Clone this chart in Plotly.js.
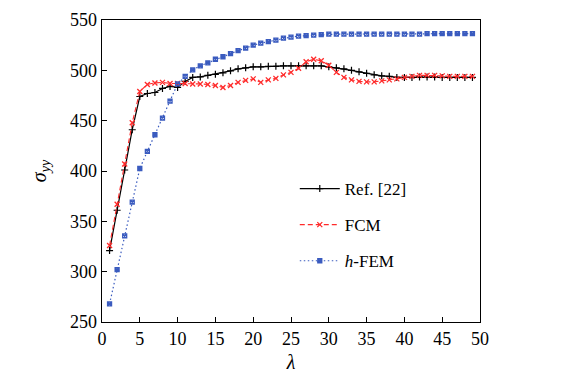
<!DOCTYPE html>
<html>
<head>
<meta charset="utf-8">
<script src="https://cdn.plot.ly/plotly-3.0.1.min.js"></script>
<style>html,body{margin:0;padding:0;background:#fff;}#chart{width:561px;height:384px;}</style>
</head>
<body>
<div id="chart"></div>
<script>
const lambda = [1,2,3,4,5,6,7,8,9,10,11,12,13,14,15,16,17,18,19,20,21,22,23,24,25,26,27,28,29,30,31,32,33,34,35,36,37,38,39,40,41,42,43,44,45,46,47,48,49];
const refValues = [321,361,401,441,474,477,478,482,484,483,489,493,493.5,495,496,497.5,499.5,501.5,502.5,503.5,503.5,504,504,504.5,504.5,504.5,504.5,504.5,504.5,503.5,502.5,501.5,500,498.5,497,495.5,494.5,494,493,493,493,493.5,493.5,493.5,493,493,493,493,493];
const fcmValues = [326,367,407,448,479,486,487.5,488,487,487,487,486.5,486.5,486,485,483,485,488,490,491.5,488,490.5,492,495.5,498,502,508.5,511,509.5,505,498,493,490.5,489,488.5,488.5,489.5,490.5,491.5,493,494,495,495,495,494.5,494,494,494,494];
const hfemValues = [268,302,335.5,369,402.5,419.5,436,452.5,469.5,486.5,494,500.5,504.5,507.5,511,513.5,516.5,519.5,522,525,527,528.5,530,532,533,534,534.5,535,535.5,536,536,536,536,536,536,536,536,536,536,536,536,536,536.5,536.5,536.5,536.5,536.5,536.5,536.5];
const xTicks = [0,5,10,15,20,25,30,35,40,45,50];
const yTicks = [250,300,350,400,450,500,550];
const seriesNames = ['Ref. [22]', 'FCM', '<i>h</i>-FEM'];

const font = '"Liberation Serif", "Times New Roman", serif';
const traces = [
  {x: lambda, y: refValues, name: seriesNames[0], legendgroup: 'a', mode: 'lines+markers', type: 'scatter',
   line: {color: '#000000', width: 1.2}, marker: {symbol: 'cross-thin-open', size: 5, color: '#000000', line: {width: 1.2, color: '#000000'}}},
  {x: lambda, y: fcmValues, name: seriesNames[1], legendgroup: 'b', mode: 'lines+markers', type: 'scatter',
   line: {color: '#ff2a2a', width: 1.1, dash: '5px,3px'}, marker: {symbol: 'x-thin-open', size: 5, color: '#ff2a2a', line: {width: 1.3, color: '#ff2a2a'}}},
  {x: lambda, y: hfemValues, name: seriesNames[2], legendgroup: 'c', mode: 'lines+markers', type: 'scatter',
   line: {color: '#3a5bbf', width: 1.2, dash: '1.5px,2.5px'}, marker: {symbol: 'square-x-open', size: 4, color: '#3a5bbf', line: {width: 1.3, color: '#3a5bbf'}}}
];
const layout = {
  width: 561, height: 384,
  margin: {l: 102, r: 81, t: 20, b: 62},
  paper_bgcolor: '#ffffff', plot_bgcolor: '#ffffff',
  font: {family: font, size: 18, color: '#000000'},
  showlegend: true,
  legend: {x: 0.51, y: 0.50, xanchor: 'left', yanchor: 'top', bgcolor: 'rgba(255,255,255,0)', itemwidth: 40,
           font: {family: font, size: 17, color: '#000'}, traceorder: 'grouped', tracegroupgap: 11},
  xaxis: {range: [0, 50], tickvals: xTicks, ticks: 'inside', ticklen: 5, tickcolor: '#000',
          showline: true, linecolor: '#000', linewidth: 1, mirror: true, showgrid: false, zeroline: false,
          tickfont: {family: font, size: 18}, title: {text: '<i>λ</i>', font: {family: font, size: 20}, standoff: 7}},
  yaxis: {range: [250, 550], tickvals: yTicks, ticks: 'inside', ticklen: 5, tickcolor: '#000',
          showline: true, linecolor: '#000', linewidth: 1.3, mirror: true, showgrid: false, zeroline: false,
          tickfont: {family: font, size: 18}, title: {text: '<i>σ</i><sub><i>yy</i></sub>', font: {family: font, size: 20}, standoff: 18}}
};
Plotly.newPlot('chart', traces, layout, {staticPlot: true, displayModeBar: false});
</script>
</body>
</html>
